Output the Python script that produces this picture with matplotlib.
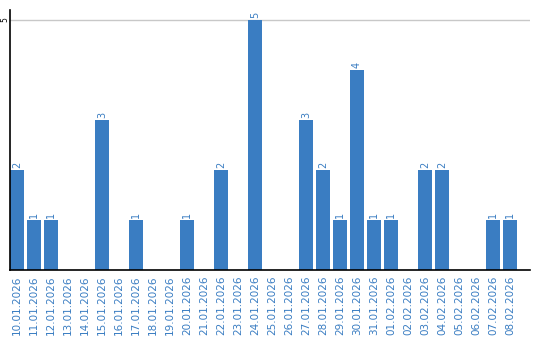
import matplotlib
matplotlib.use("Agg")
import matplotlib.pyplot as plt

# dates and counts
dates = ['10.01.2026', '11.01.2026', '12.01.2026', '13.01.2026', '14.01.2026',
         '15.01.2026', '16.01.2026', '17.01.2026', '18.01.2026', '19.01.2026',
         '20.01.2026', '21.01.2026', '22.01.2026', '23.01.2026', '24.01.2026',
         '25.01.2026', '26.01.2026', '27.01.2026', '28.01.2026', '29.01.2026',
         '30.01.2026', '31.01.2026', '01.02.2026', '02.02.2026', '03.02.2026',
         '04.02.2026', '05.02.2026', '06.02.2026', '07.02.2026', '08.02.2026']
counts = [2, 1, 1, 0, 0, 3, 0, 1, 0, 0,
          1, 0, 2, 0, 5, 0, 0, 3, 2, 1,
          4, 1, 1, 0, 2, 2, 0, 0, 1, 1]

blue = '#3a7dc2'

fig = plt.figure(figsize=(5.4, 3.4), dpi=100)
ax = fig.add_axes([10/540, 70/340, 520/540, 260/340])

x = list(range(len(dates)))
ax.bar(x, counts, width=0.82, color=blue, zorder=2)

for i, v in enumerate(counts):
    if v > 0:
        ax.text(i, v + 0.04, str(v), rotation=90, ha='center', va='bottom',
                color=blue, fontsize=7)

ax.set_xlim(-0.41, 30.18)
ax.set_ylim(0, 5.2)
ax.set_yticks([5])
ax.set_yticklabels(['5'], rotation=90, va='center', fontsize=5.5)
ax.tick_params(axis='y', length=0, pad=0.5)
ax.yaxis.grid(True, color='#c8c8c8', linewidth=1, zorder=0)

ax.set_xticks(x)
ax.set_xticklabels(dates, rotation=90, color=blue, fontsize=7.5)
ax.tick_params(axis='x', length=0, pad=4)

for s in ['top', 'right']:
    ax.spines[s].set_visible(False)
ax.spines['left'].set_linewidth(1.2)
ax.spines['bottom'].set_linewidth(1.2)

fig.savefig('out.png', dpi=100)
